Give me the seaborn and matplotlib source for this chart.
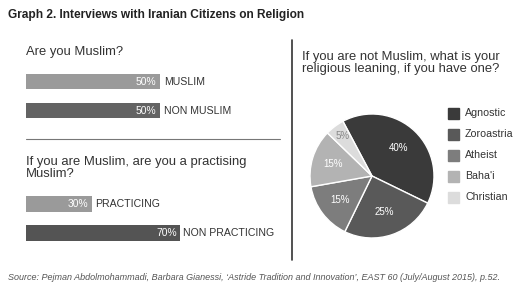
import matplotlib
matplotlib.use("Agg")
import matplotlib.pyplot as plt
import seaborn as sns
import pandas as pd
import numpy as np

sns.set_theme(style="white")
plt.rcParams['font.family'] = ['Liberation Sans', 'DejaVu Sans']

# ---- data ----
muslim_cats = ["MUSLIM", "NON MUSLIM"]
muslim_vals = [50, 50]
practice_cats = ["PRACTICING", "NON PRACTICING"]
practice_vals = [30, 70]
leaning_cats = ["Agnostic", "Zoroastria", "Atheist", "Baha'i", "Christian"]
leaning_vals = [40, 25, 15, 15, 5]

W, H = 514, 291
fig = plt.figure(figsize=(W / 100, H / 100), dpi=100)
fig.patch.set_facecolor("white")


def px_axes(x, y, w, h):
    return fig.add_axes([x / W, 1 - (y + h) / H, w / W, h / H])


def fx(x):
    return x / W


def fy(y):
    return 1 - y / H


text_dark = "#333333"

# Title
fig.text(fx(8), fy(15), "Graph 2. Interviews with Iranian Citizens on Religion",
         fontsize=8.6, fontweight="bold", color="#222222", va="center", ha="left")

# Section 1
fig.text(fx(26), fy(52), "Are you Muslim?", fontsize=9.4, color=text_dark, va="center")


def bar_panel(ax, cats, vals, colors, xmax):
    df = pd.DataFrame({"cat": cats, "val": vals})
    sns.barplot(data=df, y="cat", x="val", hue="cat", palette=colors, orient="h",
                width=0.53, ax=ax, legend=False, saturation=1, linewidth=0)
    ax.set_xlim(0, xmax)
    ax.axis("off")
    for i, (c, v) in enumerate(zip(cats, vals)):
        ax.text(v - 1.5, i, f"{v}%", color="white", fontsize=7.4, va="center", ha="right")
        ax.text(v + 1.5, i, c, color=text_dark, fontsize=7.6, va="center", ha="left",
                clip_on=False)


ax1 = px_axes(26, 67, 268, 58)
bar_panel(ax1, muslim_cats, muslim_vals, ["#9a9a9a", "#636363"], 100)

# separator
fig.add_artist(plt.Line2D([fx(26), fx(280)], [fy(139), fy(139)], color="#777777", lw=0.8))
# vertical divider
fig.add_artist(plt.Line2D([fx(292), fx(292)], [fy(40), fy(260)], color="#333333", lw=1.2))

fig.text(fx(26), fy(168), "If you are Muslim, are you a practising\nMuslim?",
         fontsize=9.4, color=text_dark, va="center", linespacing=0.9)

ax2 = px_axes(26, 189.5, 220, 58)
bar_panel(ax2, practice_cats, practice_vals, ["#9a9a9a", "#545454"], 100)

# Pie
fig.text(fx(302), fy(63), "If you are not Muslim, what is your\nreligious leaning, if you have one?",
         fontsize=9.4, color=text_dark, va="center", linespacing=0.95)

pie_colors = ["#3a3a3a", "#595959", "#7d7d7d", "#b3b3b3", "#dcdcdc"]
axp = px_axes(372 - 62, 176 - 62, 124, 124)
wedges, texts = axp.pie(leaning_vals, colors=pie_colors, startangle=118, counterclock=False,
                        wedgeprops=dict(edgecolor="white", linewidth=1),
                        labels=None, radius=1)
label_r = [0.62, 0.62, 0.65, 0.65, 0.8]
label_colors = ["white", "white", "white", "white", "#888888"]
for w, v, r, col in zip(wedges, leaning_vals, label_r, label_colors):
    ang = np.deg2rad((w.theta1 + w.theta2) / 2)
    axp.text(r * np.cos(ang), r * np.sin(ang), f"{v}%", color=col, fontsize=7,
             ha="center", va="center")
axp.set_xlim(-1, 1)
axp.set_ylim(-1, 1)
axp.set_aspect("equal")

# Legend
for i, (c, col) in enumerate(zip(leaning_cats, pie_colors)):
    yy = 113 + i * 21
    fig.add_artist(plt.Rectangle((fx(448), fy(yy + 5.5)), 11 / W, 11 / H, color=col,
                                 transform=fig.transFigure))
    fig.text(fx(465), fy(yy), c, fontsize=7.7, color=text_dark, va="center")

# Source
fig.text(fx(8), fy(277),
         "Source: Pejman Abdolmohammadi, Barbara Gianessi, \u2018Astride Tradition and Innovation\u2019, EAST 60 (July/August 2015), p.52.",
         fontsize=6.5, style="italic", color="#555555", va="center")

fig.savefig("out.png", dpi=100, facecolor="white")
